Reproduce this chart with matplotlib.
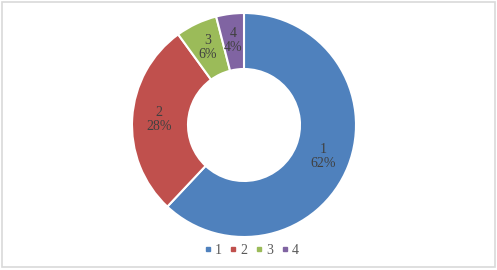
import matplotlib
matplotlib.use("Agg")
import numpy as np
import matplotlib.pyplot as plt
from matplotlib.lines import Line2D
from matplotlib.patches import Rectangle

categories = ["1", "2", "3", "4"]
shares = [62, 28, 6, 4]
colors = ["#4F81BD", "#C0504D", "#9BBB59", "#8064A2"]

plt.rcParams["font.family"] = ["Liberation Serif", "DejaVu Serif"]

fig = plt.figure(figsize=(4.97, 2.70), dpi=100)
ax = fig.add_axes([132 / 497, 33 / 270, 224 / 497, 224 / 270])

wedges, _ = ax.pie(shares, colors=colors, startangle=90, counterclock=False,
                   radius=1, wedgeprops=dict(width=0.5, edgecolor="white", linewidth=1.5))

# labels in the middle of the ring
total = sum(shares)
ang = 90.0
for cat, val in zip(categories, shares):
    sweep = 360.0 * val / total
    mid = np.deg2rad(ang - sweep / 2)
    r = 0.76
    ax.text(r * np.cos(mid), r * np.sin(mid), "{}\n{}%".format(cat, val),
            ha="center", va="center", fontsize=10, color="#404040", linespacing=1.1)
    ang -= sweep

ax.set_xlim(-1, 1)
ax.set_ylim(-1, 1)
ax.set_aspect("equal")
ax.axis("off")

handles = [Line2D([], [], marker="s", linestyle="none", markersize=3.5,
                  markerfacecolor=c, markeredgecolor=c) for c in colors]
fig.legend(handles, categories, loc="center", bbox_to_anchor=(251 / 497, 1 - 250 / 270),
           ncol=4, frameon=False, fontsize=10, handletextpad=0.2, columnspacing=0.55,
           labelcolor="#595959", handlelength=0.6)

fig.add_artist(Rectangle((1.5 / 497, 3 / 270), 493 / 497, 265.5 / 270, transform=fig.transFigure,
                         fill=False, edgecolor="#D9D9D9", linewidth=1.2))

fig.savefig("out.png", dpi=100)
